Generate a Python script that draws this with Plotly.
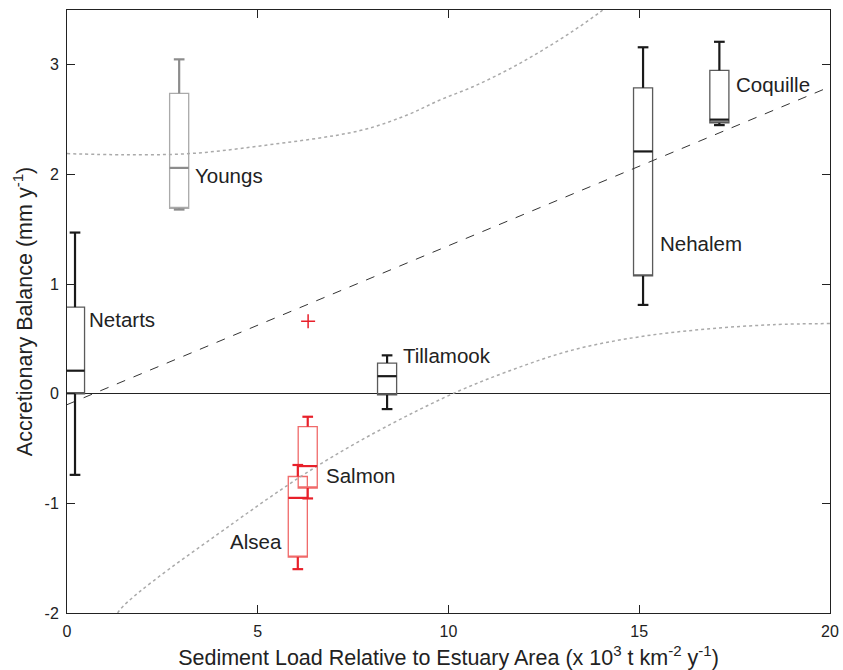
import plotly.graph_objects as go

# ---- data ----
names = ["Netarts", "Youngs", "Alsea", "Salmon", "Tillamook", "Nehalem", "Coquille"]
xpos = [0.21, 2.94, 6.05, 6.31, 8.39, 15.10, 17.10]
lower = [-0.74, 1.68, -1.60, -0.955, -0.14, 0.81, 2.45]
q1 = [0.00, 1.69, -1.49, -0.86, -0.01, 1.075, 2.47]
median = [0.21, 2.06, -0.95, -0.66, 0.16, 2.21, 2.50]
q3 = [0.79, 2.74, -0.755, -0.30, 0.28, 2.79, 2.95]
upper = [1.47, 3.05, -0.65, -0.21, 0.35, 3.16, 3.21]
group = ["k", "g", "r", "r", "k", "k", "k"]

outlier_x = [6.32]
outlier_y = [0.66]

fit_x = [0, 20]
fit_y = [-0.10, 2.80]

upper_band_x = [0.0, 1.5, 3.2, 5.06, 7.68, 8.9, 9.78, 10.64, 11.53, 12.40, 13.27, 13.97, 14.3]
upper_band_y = [2.19, 2.18, 2.19, 2.26, 2.40, 2.54, 2.68, 2.80, 2.95, 3.12, 3.31, 3.48, 3.57]
lower_band_x = [1.2, 1.39, 4.36, 6.98, 9.86, 11.53, 13.27, 15.02, 16.77, 18.51, 20.0]
lower_band_y = [-2.1, -1.97, -1.18, -0.57, -0.04, 0.20, 0.40, 0.52, 0.59, 0.63, 0.64]

label_x = [0.53, 3.31, 5.69, 6.74, 8.76, 15.49, 17.49]
label_y = [0.68, 1.99, -1.35, -0.75, 0.35, 1.37, 2.82]
label_anchor = ["left", "left", "right", "left", "left", "left", "left"]

x_ticks = [0, 5, 10, 15, 20]
y_ticks = [-2, -1, 0, 1, 2, 3]
y_ticktext = ["-2", "-1", "0", "1", "2", "3"]

# ---- styles ----
box_col = {"k": "#5a5a5a", "g": "#aaaaaa", "r": "#f06a6a"}
wh_col = {"k": "#1a1a1a", "g": "#8c8c8c", "r": "#e8202a"}
BOX_W = 0.5
CAP_HW = 0.14

fig = go.Figure()

# confidence bands
fig.add_trace(go.Scatter(x=upper_band_x, y=upper_band_y, mode="lines", line_shape="spline",
                         line=dict(color="#aaaaaa", width=1.5, dash="dot"), hoverinfo="skip"))
fig.add_trace(go.Scatter(x=lower_band_x, y=lower_band_y, mode="lines", line_shape="spline",
                         line=dict(color="#aaaaaa", width=1.5, dash="dot"), hoverinfo="skip"))
# regression line
fig.add_trace(go.Scatter(x=fit_x, y=fit_y, mode="lines",
                         line=dict(color="#333333", width=1, dash="dash"), hoverinfo="skip"))

for i, n in enumerate(names):
    g = group[i]
    fig.add_trace(go.Box(x=[xpos[i]], q1=[q1[i]], median=[q1[i]], q3=[q3[i]],
                         lowerfence=[q1[i]], upperfence=[q3[i]], width=BOX_W,
                         whiskerwidth=0, fillcolor="rgba(255,255,255,0)",
                         line=dict(color=box_col[g], width=1.3), boxpoints=False,
                         hoverinfo="skip", name=n))
    xc = xpos[i]
    wx = [xc, xc, None, xc, xc, None,
          xc - CAP_HW, xc + CAP_HW, None, xc - CAP_HW, xc + CAP_HW, None,
          xc - BOX_W / 2, xc + BOX_W / 2]
    wy = [q3[i], upper[i], None, q1[i], lower[i], None,
          upper[i], upper[i], None, lower[i], lower[i], None,
          median[i], median[i]]
    fig.add_trace(go.Scatter(x=wx, y=wy, mode="lines",
                             line=dict(color=wh_col[g], width=2.2), hoverinfo="skip"))

fig.add_trace(go.Scatter(x=outlier_x, y=outlier_y, mode="markers",
                         marker=dict(symbol="cross-thin", size=10,
                                     line=dict(color="#e8202a", width=1.5)),
                         hoverinfo="skip"))

for i, n in enumerate(names):
    fig.add_annotation(x=label_x[i], y=label_y[i], text=n, showarrow=False,
                       xanchor=label_anchor[i], yanchor="middle",
                       font=dict(size=20.5, color="#222222"))

fig.update_layout(
    width=843, height=670,
    margin=dict(l=67, r=13, t=10, b=57),
    plot_bgcolor="white", paper_bgcolor="white",
    showlegend=False, boxmode="overlay",
    font=dict(family="Liberation Sans, Arial, sans-serif", color="#222222", size=16),
)
fig.update_xaxes(range=[0, 20], tickvals=x_ticks, automargin=False,
                 showline=True, linecolor="#222222", linewidth=1, mirror="ticks",
                 ticks="inside", ticklen=8, tickcolor="#222222", showgrid=False, zeroline=False,
                 ticklabelstandoff=4,
                 title=dict(text="Sediment Load Relative to Estuary Area (x 10<sup>3</sup> t km<sup>-2</sup> y<sup>-1</sup>)",
                            font=dict(size=21.5), standoff=10))
fig.update_yaxes(range=[-2, 3.5], tickvals=y_ticks, ticktext=y_ticktext, automargin=False,
                 showline=True, linecolor="#222222", linewidth=1, mirror="ticks",
                 ticks="inside", ticklen=8, tickcolor="#222222", showgrid=False,
                 ticklabelstandoff=4,
                 zeroline=True, zerolinecolor="#222222", zerolinewidth=1.2,
                 title=dict(text="Accretionary Balance (mm y<sup>-1</sup>)", font=dict(size=21.5), standoff=6))

fig.write_html("out.html")
